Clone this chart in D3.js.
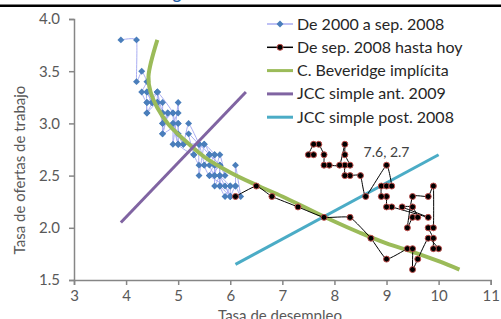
<!DOCTYPE html>
<html>
<head>
<meta charset="utf-8">
<script src="https://cdn.jsdelivr.net/npm/d3@7"></script>
<style>
  body { margin: 0; background: #fff; }
  svg { display: block; font-family: Lato, "Open Sans", sans-serif; }
  .axis-label { fill: #595959; font-size: 15px; }
</style>
</head>
<body>
<div id="chart"></div>
<script>
// data (u = tasa de desempleo, v = tasa de ofertas de trabajo)
const preCrisis = [ // dic. 2000 - ago. 2008
  [3.9,3.8],[4.2,3.8],[4.2,3.4],[4.3,3.5],[4.4,3.4],[4.3,3.3],[4.4,3.2],[4.6,3.3],[4.9,3.1],[5.0,2.8],[5.3,2.7],[5.5,2.8],[5.7,2.7],
  [5.7,2.6],[5.7,2.5],[5.8,2.7],[5.9,2.5],[5.8,2.6],[5.8,2.4],[5.8,2.5],[5.7,2.4],[5.7,2.6],[5.6,2.5],[5.9,2.4],[6.0,2.3],
  [5.8,2.4],[5.9,2.3],[6.0,2.4],[6.0,2.3],[6.1,2.4],[6.2,2.3],[6.1,2.6],[6.1,2.4],[6.0,2.4],[5.8,2.5],[5.7,2.5],[5.6,2.6],
  [5.7,2.7],[5.6,2.7],[5.8,2.6],[5.6,2.5],[5.5,2.6],[5.6,2.7],[5.5,2.8],[5.4,2.5],[5.4,2.8],[5.5,2.6],[5.4,2.6],[5.3,2.7],
  [5.2,2.9],[5.4,2.8],[5.2,3.0],[5.1,2.8],[5.0,2.9],[5.0,3.0],[5.0,2.8],[4.9,3.0],[5.0,3.1],[5.0,3.2],[4.9,2.8],[4.9,3.1],
  [4.7,3.0],[4.8,3.1],[4.7,2.9],[4.7,3.2],[4.6,3.2],[4.6,3.3],[4.5,3.2],[4.7,3.1],[4.4,3.3],[4.4,3.1],[4.4,3.2],
  [4.6,3.2],[4.5,3.2],[4.4,3.3],[4.5,3.2],[4.4,3.1],[4.6,3.2],[4.7,3.0],[4.6,3.3],[4.7,3.1],[4.8,3.1],[4.7,2.9],[5.0,3.0],
  [4.9,3.0],[5.1,2.8],[5.0,2.8],[5.4,2.8],[5.6,2.7],[5.8,2.6],[5.8,2.5],[6.0,2.3]
];
const postCrisis = [ // sep. 2008 - hoy
  [6.1,2.3],[6.5,2.4],[6.8,2.3],[7.3,2.2],[7.8,2.1],[8.3,2.1],[8.7,1.9],[9.0,1.7],[9.4,1.8],[9.5,1.8],[9.5,1.6],[9.6,1.7],
  [9.8,1.9],[10.0,1.8],[9.9,1.8],[9.9,1.9],[9.8,2.0],[9.9,2.0],[9.9,2.4],[9.8,2.3],[9.5,2.3],[9.4,2.0],[9.5,2.1],[9.6,2.1],
  [9.5,2.2],[9.3,2.2],[9.8,2.1],[9.1,2.2],[9.0,2.2],[9.0,2.3],[8.9,2.3],[8.9,2.4],[9.0,2.4],[9.1,2.4],[9.0,2.6],[8.6,2.3],
  [8.5,2.5],[8.3,2.5],[8.2,2.5],[8.2,2.6],[8.3,2.6],[8.2,2.7],[8.2,2.8],[8.1,2.6],[7.9,2.6],[7.8,2.6],[7.8,2.7],[7.7,2.8],
  [7.6,2.8],[7.5,2.7],[7.6,2.7]
];
const beveridgeU = [4.6, 4.43, 4.47, 4.6, 4.8, 5.1, 5.5, 6.0, 6.5, 7.0, 7.5, 8.0, 8.5, 9.0, 9.5, 10.0, 10.4];
const beveridgeV = [3.8, 3.45, 3.3, 3.15, 3.0, 2.85, 2.68, 2.53, 2.41, 2.30, 2.18, 2.06, 1.95, 1.85, 1.77, 1.68, 1.6];
const jccAnt = [[3.9, 2.05], [6.3, 3.3]];
const jccPost = [[6.1, 1.65], [10.0, 2.7]];
const lastLabel = "7.6, 2.7";

const xTicks = [3, 4, 5, 6, 7, 8, 9, 10, 11];
const yTicks = [1.5, 2.0, 2.5, 3.0, 3.5, 4.0];
const legendLabels = ["De 2000 a sep. 2008", "De sep. 2008 hasta hoy", "C. Beveridge implícita",
  "JCC simple ant. 2009", "JCC simple post. 2008"];

const colors = {
  preLine: "#a9adf2", preMark: "#4a7ebb", post: "#000000", postStroke: "#c0504d",
  bev: "#9bbb59", ant: "#8064a2", postJcc: "#4bacc6", axis: "#868686", text: "#595959"
};

const width = 501, height = 319;
const svg = d3.select("#chart").append("svg")
  .attr("width", width)
  .attr("height", height);

const x = d3.scaleLinear().domain([3, 11]).range([74, 490.7]);
const y = d3.scaleLinear().domain([1.5, 4]).range([280, 19]);

// cut title + rule at the top
svg.append("text")
  .attr("x", 51).attr("y", -1)
  .attr("fill", "#1f5fa8")
  .attr("font-size", "16px")
  .attr("font-weight", "bold")
  .text("Curva de Beveridge");
svg.append("line")
  .attr("x1", 0).attr("x2", width)
  .attr("y1", 5.8).attr("y2", 5.8)
  .attr("stroke", "#000").attr("stroke-width", 2.6);

// axes
const xAxis = svg.append("g")
  .attr("transform", `translate(0, ${y(1.5)})`)
  .call(d3.axisBottom(x).tickValues(xTicks).tickFormat(d3.format("d")).tickSize(5).tickPadding(5));
const yAxis = svg.append("g")
  .attr("transform", `translate(${x(3)}, 0)`)
  .call(d3.axisLeft(y).tickValues(yTicks).tickFormat(d3.format(".1f")).tickSize(5).tickPadding(9));
[xAxis, yAxis].forEach(ax => {
  ax.select(".domain").attr("stroke", colors.axis).attr("stroke-width", 1.5);
  ax.selectAll(".tick line").attr("stroke", colors.axis).attr("stroke-width", 1.5);
  ax.selectAll(".tick text").attr("fill", colors.text).style("font-size", "15px").style("font-family", "Lato, sans-serif");
});

svg.append("text")
  .attr("class", "axis-label")
  .attr("text-anchor", "middle")
  .attr("transform", "translate(25, 170) rotate(-90)")
  .text("Tasa de ofertas de trabajo");
svg.append("text")
  .attr("class", "axis-label")
  .attr("text-anchor", "middle")
  .attr("x", 280).attr("y", 321)
  .text("Tasa de desempleo");

const smooth = d3.line()
  .x(d => x(d[0]))
  .y(d => y(d[1]))
  .curve(d3.curveCatmullRom.alpha(0.5));
const soft = d3.line()
  .x(d => x(d[0]))
  .y(d => y(d[1]))
  .curve(d3.curveCardinal.tension(0.6));
const straight = d3.line().x(d => x(d[0])).y(d => y(d[1]));

// 2000 - sep. 2008
svg.append("path")
  .attr("d", soft(preCrisis))
  .attr("fill", "none")
  .attr("stroke", colors.preLine)
  .attr("stroke-width", 1);
const diamond = d3.symbol(d3.symbolSquare, 24);
svg.append("g").selectAll("path")
  .data(preCrisis)
  .join("path")
  .attr("d", diamond)
  .attr("transform", d => `translate(${x(d[0])}, ${y(d[1])}) rotate(45)`)
  .attr("fill", colors.preMark);

// fitted curves
const bevData = beveridgeU.map((u, i) => [u, beveridgeV[i]]);
svg.append("path")
  .attr("d", smooth(bevData))
  .attr("fill", "none")
  .attr("stroke", colors.bev)
  .attr("stroke-width", 4);
svg.append("path")
  .attr("d", straight(jccAnt))
  .attr("fill", "none")
  .attr("stroke", colors.ant)
  .attr("stroke-width", 3);
svg.append("path")
  .attr("d", straight(jccPost))
  .attr("fill", "none")
  .attr("stroke", colors.postJcc)
  .attr("stroke-width", 3);

// sep. 2008 - hoy
svg.append("path")
  .attr("d", soft(postCrisis))
  .attr("fill", "none")
  .attr("stroke", colors.post)
  .attr("stroke-width", 1);
svg.append("g").selectAll("circle")
  .data(postCrisis)
  .join("circle")
  .attr("cx", d => x(d[0]))
  .attr("cy", d => y(d[1]))
  .attr("r", 3)
  .attr("fill", colors.post)
  .attr("stroke", colors.postStroke)
  .attr("stroke-width", 1);

// label for the last point
const last = postCrisis[postCrisis.length - 1];
svg.append("text")
  .attr("x", x(last[0]) + 50)
  .attr("y", y(last[1]) + 2)
  .attr("fill", "#404040")
  .attr("font-size", "14px")
  .text(lastLabel);

// legend
const legendColors = [colors.preLine, colors.post, colors.bev, colors.ant, colors.postJcc];
const legend = svg.append("g");
legendLabels.forEach((label, i) => {
  const ly = 24 + i * 23.3;
  legend.append("line")
    .attr("x1", 267).attr("x2", 293)
    .attr("y1", ly).attr("y2", ly)
    .attr("stroke", legendColors[i])
    .attr("stroke-width", i < 2 ? 1.5 : 3);
  if (i === 0) {
    legend.append("path")
      .attr("d", diamond)
      .attr("transform", `translate(280, ${ly}) rotate(45)`)
      .attr("fill", colors.preMark);
  }
  if (i === 1) {
    legend.append("circle")
      .attr("cx", 280).attr("cy", ly).attr("r", 3)
      .attr("fill", colors.post)
      .attr("stroke", colors.postStroke);
  }
  legend.append("text")
    .attr("x", 297).attr("y", ly + 5.5)
    .attr("fill", "#262626")
    .attr("font-size", "16px")
    .text(label);
});
</script>
</body>
</html>
